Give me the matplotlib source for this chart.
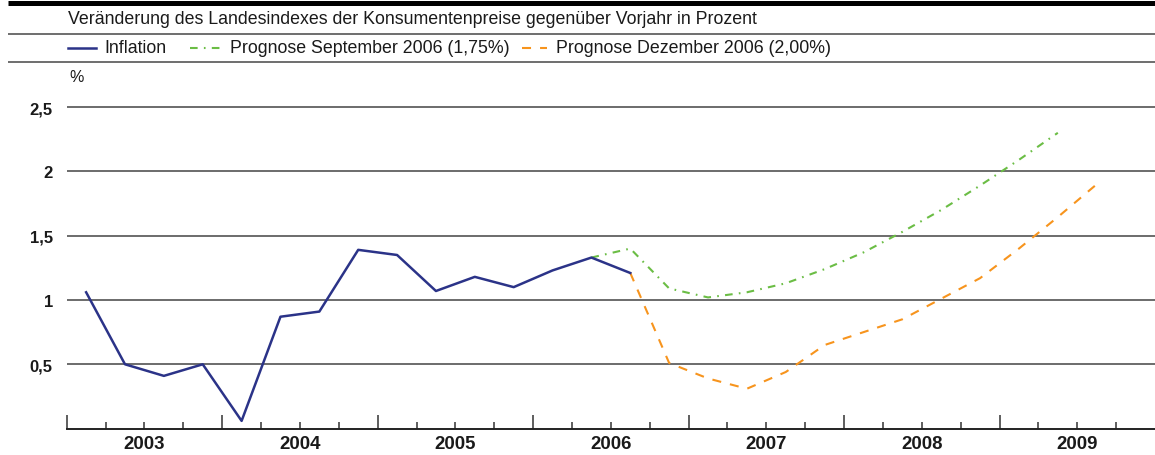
import matplotlib
matplotlib.use('Agg')
import matplotlib.pyplot as plt

# quarterly values, first value = first quarter given in *_start
inflation_start = 2003.0   # Q1 2003
inflation = [1.06, 0.50, 0.41, 0.50, 0.06, 0.87, 0.91, 1.39,
             1.35, 1.07, 1.18, 1.10, 1.23, 1.33, 1.21]

sep_start = 2006.25        # Q2 2006
prognose_sep = [1.33, 1.40, 1.09, 1.02, 1.06, 1.13, 1.24,
                1.37, 1.53, 1.70, 1.89, 2.09, 2.30]

dec_start = 2006.5         # Q3 2006
prognose_dec = [1.21, 0.51, 0.39, 0.31, 0.44, 0.65, 0.75,
                0.85, 1.01, 1.17, 1.40, 1.645, 1.90]

years = [2003, 2004, 2005, 2006, 2007, 2008, 2009]
y_ticks = [0.5, 1, 1.5, 2, 2.5]
y_labels = ['0,5', '1', '1,5', '2', '2,5']

title = 'Veränderung des Landesindexes der Konsumentenpreise gegenüber Vorjahr in Prozent'
legend_labels = ['Inflation', 'Prognose September 2006 (1,75%)', 'Prognose Dezember 2006 (2,00%)']

blue = '#2b3388'
green = '#6bbd45'
orange = '#f7941d'
text_col = '#1a1a1a'

plt.rcParams['font.family'] = ['Liberation Sans', 'DejaVu Sans']
plt.rcParams['lines.scale_dashes'] = False

W, H = 1155, 456
fig = plt.figure(figsize=(W / 100, H / 100), dpi=100)

# overlay in pixel coordinates for the header rules and legend
ov = fig.add_axes([0, 0, 1, 1])
ov.set_xlim(0, W)
ov.set_ylim(H, 0)
ov.axis('off')

fs = 12.8
ov.plot([8, W], [3.5, 3.5], color='black', lw=3.6, solid_capstyle='butt')
ov.plot([8, W], [34.5, 34.5], color='#555555', lw=1.2, solid_capstyle='butt')
ov.plot([8, W], [62.8, 62.8], color='#555555', lw=1.2, solid_capstyle='butt')
ov.text(68, 19, title, fontsize=fs, color=text_col, va='center', ha='left')

ly = 48.5
ov.plot([68, 96], [ly, ly], color=blue, lw=1.8)
ov.text(104, ly, legend_labels[0], fontsize=fs, color=text_col, va='center')
ov.plot([190, 221], [ly, ly], color=green, lw=1.5, linestyle=(0, (5.5, 4.5, 1.2, 4.5)))
ov.text(230, ly, legend_labels[1], fontsize=fs, color=text_col, va='center')
ov.plot([522, 547], [ly, ly], color=orange, lw=1.5, linestyle=(0, (6.5, 6.5)))
ov.text(556, ly, legend_labels[2], fontsize=fs, color=text_col, va='center')
ov.text(69, 78, '%', fontsize=11.5, color=text_col, va='center')

# main chart
left = 66.7
bottom = H - 429.6
px_per_unit = 128.6
ax = fig.add_axes([left / W, bottom / H, 1 - left / W, 2.6 * px_per_unit / H])
ax.patch.set_alpha(0)
ax.set_xlim(2003, 2010)
ax.set_ylim(0, 2.6)

for s in ['left', 'top', 'right']:
    ax.spines[s].set_visible(False)
ax.spines['bottom'].set_linewidth(1.4)
ax.spines['bottom'].set_color('#222222')

ax.set_yticks(y_ticks, labels=y_labels)
ax.yaxis.grid(True, color='#444444', lw=1.1)
ax.set_axisbelow(True)
ax.tick_params(axis='y', length=0, pad=10)
for lab in ax.get_yticklabels():
    lab.set_fontweight('bold')
    lab.set_fontsize(12)
    lab.set_color(text_col)

ax.set_xticks(years, labels=[''] * len(years))
minor_pos = []
minor_lab = []
for yr in years:
    for q in [0.25, 0.5, 0.75]:
        minor_pos.append(yr + q)
        minor_lab.append(str(yr) if q == 0.5 else '')
ax.set_xticks(minor_pos, labels=minor_lab, minor=True)
ax.tick_params(axis='x', which='major', direction='in', length=10, width=1.1, color='#333333')
ax.tick_params(axis='x', which='minor', direction='in', length=5.4, width=1.1, color='#333333', pad=4.5)
for lab in ax.get_xticklabels(minor=True):
    lab.set_fontweight('bold')
    lab.set_fontsize(13.4)
    lab.set_color(text_col)


def qx(start, vals):
    return [start + (i + 0.5) / 4 for i in range(len(vals))]


ax.plot(qx(sep_start, prognose_sep), prognose_sep, color=green, lw=1.5,
        linestyle=(0, (5.5, 4.5, 1.2, 4.5)), clip_on=False)
ax.plot(qx(dec_start, prognose_dec), prognose_dec, color=orange, lw=1.5,
        linestyle=(0, (6.5, 6.5)), clip_on=False)
ax.plot(qx(inflation_start, inflation), inflation, color=blue, lw=1.8,
        solid_joinstyle='round', clip_on=False)

fig.savefig('out.png', dpi=100)
